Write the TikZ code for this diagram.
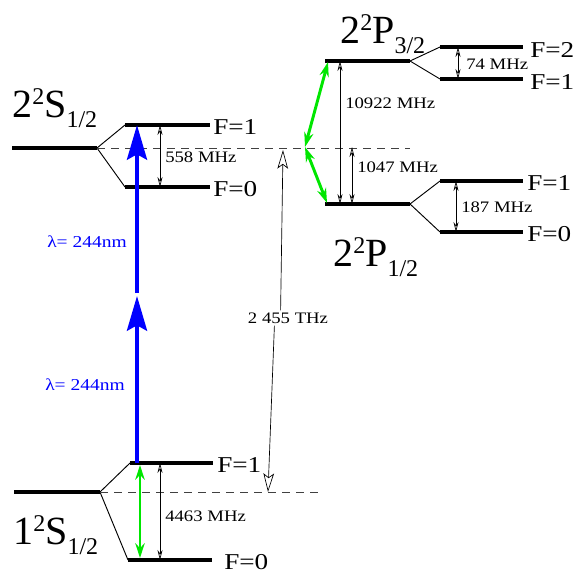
\documentclass[tikz,border=0pt]{standalone}
\usepackage{fontspec}
\setmainfont{Liberation Serif}
\newfontfamily\fstretch[FakeStretch=1.2]{Liberation Serif}
\newfontfamily\sstretch[FakeStretch=1.17]{Liberation Serif}
\usetikzlibrary{arrows.meta}
\definecolor{lgreen}{RGB}{0,230,0}
\definecolor{lblue}{RGB}{0,0,255}
\newcommand{\termlbl}[3]{{\fontsize{30}{32}\selectfont #1\raisebox{9.5pt}{\fontsize{18}{19}\selectfont 2}#2\raisebox{-7.5pt}{\fontsize{18}{19}\selectfont #3}}}
\begin{document}
\begin{tikzpicture}[x=0.75pt,y=-0.75pt,
  level/.style={line width=2.3pt},
  split/.style={line width=0.7pt},
  dashref/.style={line width=0.6pt, draw=black!75, dash pattern=on 6pt off 4.5pt},
  gap/.style={line width=0.5pt, {Stealth[length=7.5pt,width=3.8pt,open]}-{Stealth[length=7.5pt,width=3.8pt,open]}},
  greenarrow/.style={line width=2.2pt, draw=lgreen, {Stealth[length=11pt,width=7pt]}-{Stealth[length=11pt,width=7pt]}},
  bluearrow/.style={line width=3pt, draw=lblue, -{Stealth[length=26pt,width=15pt,inset=4pt]}},
  thzarrow/.style={line width=0.5pt, -{Stealth[length=14pt,width=8pt,inset=3pt,open]}},
  bigtxt/.style={inner sep=0pt},
  flabel/.style={font=\fstretch\fontsize{17}{18}\selectfont, inner sep=0pt, anchor=west},
  small/.style={font=\sstretch\fontsize{12}{14}\selectfont, inner sep=0pt},
  lam/.style={font=\sstretch\fontsize{12.5}{14}\selectfont, text=lblue, inner sep=0pt}
]
\useasboundingbox (0,0) rectangle (573,575);

% ---- 2S1/2
\coordinate (s2a) at (12,148); \coordinate (s2b) at (97,148);
\coordinate (s2f1a) at (125,125); \coordinate (s2f1b) at (210,125);
\coordinate (s2f0a) at (125,187); \coordinate (s2f0b) at (210,187);
\coordinate (s2d) at (410,148);
\draw[level] (s2a) -- (s2b);
\draw[level] (s2f1a) -- (s2f1b);
\draw[level] (s2f0a) -- (s2f0b);
\draw[split] (s2b) -- (s2f1a);
\draw[split] (s2b) -- (s2f0a);
\draw[dashref] (s2b) -- (s2d);
\node[flabel] (ls2f1) at (213,127) {F=1};
\node[flabel] (ls2f0) at (213,189) {F=0};
\node[bigtxt, anchor=base west] (ls2) at (12,117) {\termlbl{2}{S}{1/2}};
\coordinate (g558a) at (160,125); \coordinate (g558b) at (160,187);
\draw[gap] (g558a) -- (g558b);
\node[small, anchor=west] (l558) at (165,157) {558 MHz};

% ---- 1S1/2
\coordinate (s1a) at (14,492); \coordinate (s1b) at (100,492);
\coordinate (s1f1a) at (130,463); \coordinate (s1f1b) at (213,463);
\coordinate (s1f0a) at (128,560); \coordinate (s1f0b) at (212,560);
\coordinate (s1d) at (322,492);
\draw[level] (s1a) -- (s1b);
\draw[level] (s1f1a) -- (s1f1b);
\draw[level] (s1f0a) -- (s1f0b);
\draw[split] (s1b) -- (s1f1a);
\draw[split] (s1b) -- (s1f0a);
\draw[dashref] (s1b) -- (s1d);
\node[flabel] (ls1f1) at (217,465) {F=1};
\node[flabel] (ls1f0) at (224,562) {F=0};
\node[bigtxt, anchor=base west] (ls1) at (13,544) {\termlbl{1}{S}{1/2}};
\coordinate (g4463a) at (160,463); \coordinate (g4463b) at (160,560);
\draw[gap] (g4463a) -- (g4463b);
\node[small, anchor=west] (l4463) at (165,516) {4463 MHz};
\coordinate (gr1a) at (140,465); \coordinate (gr1b) at (140,558);
\draw[greenarrow] (gr1a) -- (gr1b);

% ---- blue two-photon arrows
\coordinate (b0) at (137,463); \coordinate (b1) at (137,296);
\coordinate (b2) at (137,293); \coordinate (b3) at (137,125);
\draw[bluearrow] (b0) -- (b1);
\draw[bluearrow] (b2) -- (b3);
\node[lam] (lam1) at (87,242) {λ= 244nm};
\node[lam] (lam2) at (85,385) {λ= 244nm};

% ---- 2P3/2
\coordinate (p3a) at (325,61); \coordinate (p3b) at (410,61);
\coordinate (p3f2a) at (440,47); \coordinate (p3f2b) at (523,47);
\coordinate (p3f1a) at (440,79); \coordinate (p3f1b) at (523,79);
\draw[level] (p3a) -- (p3b);
\draw[level] (p3f2a) -- (p3f2b);
\draw[level] (p3f1a) -- (p3f1b);
\draw[split] (p3b) -- (p3f2a);
\draw[split] (p3b) -- (p3f1a);
\node[flabel] (lp3f2) at (530,50) {F=2};
\node[flabel] (lp3f1) at (530,82) {F=1};
\node[bigtxt, anchor=base west] (lp3) at (340,43) {\termlbl{2}{P}{3/2}};
\coordinate (g74a) at (458,47); \coordinate (g74b) at (458,79);
\draw[gap] (g74a) -- (g74b);
\node[small, anchor=west] (l74) at (466,64) {74 MHz};

% ---- 2P1/2
\coordinate (p1a) at (325,204); \coordinate (p1b) at (410,204);
\coordinate (p1f1a) at (440,181); \coordinate (p1f1b) at (523,181);
\coordinate (p1f0a) at (440,232); \coordinate (p1f0b) at (523,232);
\draw[level] (p1a) -- (p1b);
\draw[level] (p1f1a) -- (p1f1b);
\draw[level] (p1f0a) -- (p1f0b);
\draw[split] (p1b) -- (p1f1a);
\draw[split] (p1b) -- (p1f0a);
\node[flabel] (lp1f1) at (527,183) {F=1};
\node[flabel] (lp1f0) at (527,234) {F=0};
\node[bigtxt, anchor=base west] (lp1) at (333,266) {\termlbl{2}{P}{1/2}};
\coordinate (g187a) at (456,181); \coordinate (g187b) at (456,232);
\draw[gap] (g187a) -- (g187b);
\node[small, anchor=west] (l187) at (461,207) {187 MHz};

% ---- fine structure / Lamb shift
\coordinate (g10a) at (340,61); \coordinate (g10b) at (340,204);
\draw[gap] (g10a) -- (g10b);
\node[small, anchor=west] (l10922) at (345,103) {10922 MHz};
\coordinate (g1047a) at (352,147); \coordinate (g1047b) at (352,204);
\draw[gap] (g1047a) -- (g1047b);
\node[small, anchor=west] (l1047) at (357,167) {1047 MHz};

% ---- green arrows 2S - 2P
\coordinate (gc) at (305,147);
\coordinate (gp3) at (328,62); \coordinate (gp1) at (327,203);
\draw[greenarrow] (gc) -- (gp3);
\draw[greenarrow] (gc) -- (gp1);

% ---- 2 455 THz
\coordinate (tb) at (268,492); \coordinate (tt) at (283,150);
\node[small, fill=white, inner sep=1.5pt] (lthz) at (288,318) {2 455 THz};
\draw[thzarrow] (lthz.north -| 280.6,0) -- (tt);
\draw[thzarrow] (lthz.south -| 274.4,0) -- (tb);
\end{tikzpicture}
\end{document}
